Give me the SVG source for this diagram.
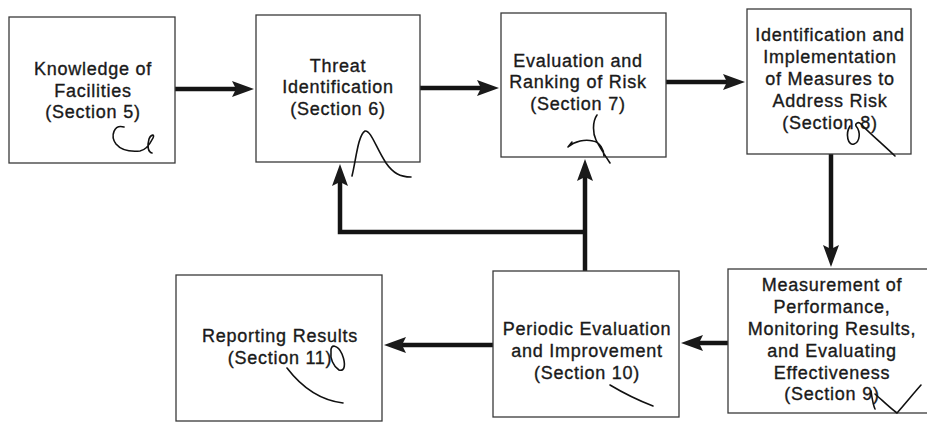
<svg xmlns="http://www.w3.org/2000/svg" width="927" height="423" viewBox="0 0 927 423">
<defs>
<style>
.box{fill:#ffffff;stroke:#3a3a3a;stroke-width:1.3}
.t{font-family:"Liberation Sans",Arial,sans-serif;font-size:18px;letter-spacing:0.75px;fill:#1a1a1a;stroke:#1a1a1a;stroke-width:0.35;text-anchor:middle}
.c{fill:none;stroke:#141414;stroke-width:4.5}
.ink{fill:none;stroke:#111;stroke-width:1.6;stroke-linecap:round;stroke-linejoin:round}
</style>
<marker id="ah" markerUnits="userSpaceOnUse" viewBox="0 0 22 16" refX="12" refY="8" markerWidth="22" markerHeight="16" orient="auto">
<path d="M0 0 L22 8 L0 16 L4 8 Z" fill="#1a1a1a"/>
</marker>
</defs>
<rect width="927" height="423" fill="#ffffff"/>

<g id="connectors">
<path class="c" d="M175 89 H244" marker-end="url(#ah)"/>
<path class="c" d="M420 88 H489" marker-end="url(#ah)"/>
<path class="c" d="M666 82 H735" marker-end="url(#ah)"/>
<path class="c" d="M831 154 V257" marker-end="url(#ah)"/>
<path class="c" d="M728 343 H691" marker-end="url(#ah)"/>
<path class="c" d="M493 345 H394" marker-end="url(#ah)"/>
<path class="c" d="M585 271 V169" marker-end="url(#ah)"/>
<path class="c" d="M587 232 H340 V174" marker-end="url(#ah)"/>
</g>

<g id="n5">
<rect class="box" x="9" y="17" width="166" height="146"/>
<text class="t" x="93" y="75">Knowledge of</text>
<text class="t" x="93" y="97">Facilities</text>
<text class="t" x="93" y="118">(Section 5)</text>
<path class="ink" d="M124 127 C114 124 110 136 116 144 C121 150 130 152 140 151 C146 150 150 144 153 138 C155 134 151 134 149 139 C147 146 148 152 152 153"/>
</g>

<g id="n6">
<rect class="box" x="256" y="15" width="164" height="147"/>
<text class="t" x="338" y="72">Threat</text>
<text class="t" x="338" y="93">Identification</text>
<text class="t" x="338" y="115">(Section 6)</text>
<path class="ink" d="M352 176 C356 160 358 135 365 131 C371 130 376 148 386 163 C393 173 400 177 411 177"/>
</g>

<g id="n7">
<rect class="box" x="501" y="13" width="165" height="144"/>
<text class="t" x="578" y="67">Evaluation and</text>
<text class="t" x="578" y="88">Ranking of Risk</text>
<text class="t" x="578" y="110">(Section 7)</text>
<path class="ink" d="M597 115 C592 122 593 134 596 140 C599 146 604 154 610 163 M568 147 C575 141 585 139 593 141 C600 142 604 150 604 156 M568 147 L572 142"/>
</g>

<g id="n8">
<rect class="box" x="747" y="9" width="164" height="145"/>
<text class="t" x="830" y="41">Identification and</text>
<text class="t" x="830" y="63">Implementation</text>
<text class="t" x="830" y="85">of Measures to</text>
<text class="t" x="830" y="107">Address Risk</text>
<text class="t" x="830" y="129">(Section 8)</text>
<path class="ink" d="M850 126 C845 134 848 146 854 144 C860 142 861 132 856 126 C855 124 858 121 861 124 C866 130 878 140 895 156"/>
</g>

<g id="n9">
<rect class="box" x="728" y="269" width="205" height="144"/>
<text class="t" x="832" y="291">Measurement of</text>
<text class="t" x="832" y="313">Performance,</text>
<text class="t" x="832" y="335">Monitoring Results,</text>
<text class="t" x="832" y="357">and Evaluating</text>
<text class="t" x="832" y="379">Effectiveness</text>
<text class="t" x="832" y="400">(Section 9)</text>
<path class="ink" d="M871 391 C872 398 873 405 875 409 M875 394 C882 400 890 408 897 413 C905 404 913 394 921 385"/>
</g>

<g id="n10">
<rect class="box" x="493" y="271" width="186" height="146"/>
<text class="t" x="587" y="335">Periodic Evaluation</text>
<text class="t" x="587" y="357">and Improvement</text>
<text class="t" x="587" y="379">(Section 10)</text>
<path class="ink" d="M610 385 C625 394 640 401 653 406"/>
</g>

<g id="n11">
<rect class="box" x="176" y="275" width="206" height="146"/>
<text class="t" x="280" y="342">Reporting Results</text>
<text class="t" x="280" y="364">(Section 11)</text>
<path class="ink" d="M287 368 C300 385 318 400 343 403 M331 352 C330 343 338 345 342 354 C346 364 345 372 339 370 C333 366 330 358 331 352"/>
</g>
</svg>
